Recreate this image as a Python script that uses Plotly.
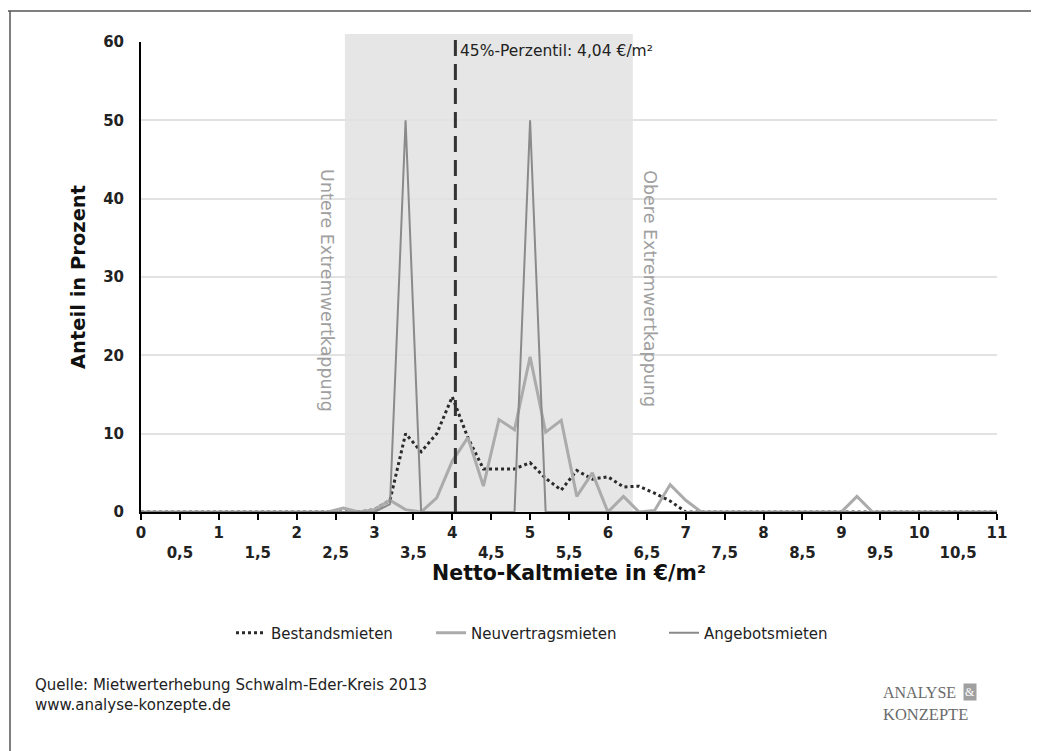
import plotly.graph_objects as go

# ---------------- data ----------------
MIETE = [0.0, 0.2, 0.4, 0.6, 0.8, 1.0, 1.2, 1.4, 1.6, 1.8, 2.0, 2.2, 2.4, 2.6, 2.8,
         3.0, 3.2, 3.4, 3.6, 3.8, 4.0, 4.2, 4.4, 4.6, 4.8, 5.0, 5.2, 5.4, 5.6, 5.8,
         6.0, 6.2, 6.4, 6.6, 6.8, 7.0, 7.2, 7.4, 7.6, 7.8, 8.0, 8.2, 8.4, 8.6, 8.8,
         9.0, 9.2, 9.4, 9.6, 9.8, 10.0, 10.2, 10.4, 10.6, 10.8, 11.0]

BESTANDSMIETEN = [0, 0, 0, 0, 0, 0, 0, 0, 0, 0, 0, 0, 0, 0, 0,
                  0.3, 1.5, 10.0, 7.7, 10.0, 14.7, 9.5, 5.5, 5.5, 5.5, 6.3, 4.3, 2.8, 5.3, 4.2,
                  4.5, 3.2, 3.3, 2.4, 1.4, 0, 0, 0, 0, 0, 0, 0, 0, 0, 0,
                  0, 0, 0, 0, 0, 0, 0, 0, 0, 0, 0]

NEUVERTRAGSMIETEN = [0, 0, 0, 0, 0, 0, 0, 0, 0, 0, 0, 0, 0, 0.5, 0,
                     0.3, 1.5, 0.3, 0, 1.8, 6.5, 9.5, 3.3, 11.8, 10.5, 19.8, 10.2, 11.7, 2.0, 5.0,
                     0, 2.0, 0, 0.2, 3.5, 1.5, 0, 0, 0, 0, 0, 0, 0, 0, 0,
                     0, 2.0, 0, 0, 0, 0, 0, 0, 0, 0, 0]

ANGEBOTSMIETEN = [0, 0, 0, 0, 0, 0, 0, 0, 0, 0, 0, 0, 0, 0, 0,
                  0, 1.0, 50.0, 0, 0, 0, 0, 0, 0, 0, 50.0, 0, 0, 0, 0,
                  0, 0, 0, 0, 0, 0, 0, 0, 0, 0, 0, 0, 0, 0, 0,
                  0, 0, 0, 0, 0, 0, 0, 0, 0, 0, 0]

SERIES_NAMES = ["Bestandsmieten", "Neuvertragsmieten", "Angebotsmieten"]

X_TICKS = [0, 0.5, 1, 1.5, 2, 2.5, 3, 3.5, 4, 4.5, 5, 5.5, 6, 6.5, 7, 7.5, 8, 8.5, 9, 9.5, 10, 10.5, 11]
X_TICKTEXT = ["0", "<br>0,5", "1", "<br>1,5", "2", "<br>2,5", "3", "<br>3,5", "4", "<br>4,5",
              "5", "<br>5,5", "6", "<br>6,5", "7", "<br>7,5", "8", "<br>8,5", "9", "<br>9,5",
              "10", "<br>10,5", "11"]
Y_TICKS = [0, 10, 20, 30, 40, 50, 60]

BAND_LOW = 2.62
BAND_HIGH = 6.32
PERZENTIL = 4.04

# ---------------- layout geometry ----------------
OFF = 8  # page margin of the html body
W, H = 1031, 743
L, T = 141 - OFF, 42 - OFF
R = W - (997 - OFF)
B = H - (512 - OFF)
PW, PH = W - L - R, H - T - B


def px_x(p):
    return (p - OFF - L) / PW


def px_y(p):
    return (H - B - (p - OFF)) / PH


FONT = "DejaVu Sans"

fig = go.Figure()
fig.add_trace(go.Scatter(x=MIETE, y=BESTANDSMIETEN, mode="lines", name=SERIES_NAMES[0],
                         legend="legend",
                         line=dict(color="#2b2b2b", width=3, dash="dot")))
fig.add_trace(go.Scatter(x=MIETE, y=NEUVERTRAGSMIETEN, mode="lines", name=SERIES_NAMES[1],
                         legend="legend2",
                         line=dict(color="#ababab", width=3)))
fig.add_trace(go.Scatter(x=MIETE, y=ANGEBOTSMIETEN, mode="lines", name=SERIES_NAMES[2],
                         legend="legend3",
                         line=dict(color="#8a8a8a", width=2)))

shapes = [
    dict(type="rect", xref="x", yref="paper", x0=BAND_LOW, x1=BAND_HIGH, y0=0, y1=px_y(34),
         fillcolor="#e6e6e6", line=dict(width=0), layer="below"),
    dict(type="line", xref="x", yref="paper", x0=PERZENTIL, x1=PERZENTIL, y0=0, y1=px_y(35),
         line=dict(color="#333333", width=3, dash="16px,8px"), layer="above"),
    dict(type="line", xref="paper", yref="paper", x0=px_x(10), x1=px_x(10), y0=px_y(11), y1=px_y(770),
         line=dict(color="#555555", width=1.5)),
    dict(type="line", xref="paper", yref="paper", x0=px_x(0), x1=px_x(1036), y0=px_y(11), y1=px_y(11),
         line=dict(color="#555555", width=1.5)),
]

annotations = [
    dict(x=PERZENTIL, y=px_y(51), xref="x", yref="paper", text="45%-Perzentil: 4,04 €/m²",
         showarrow=False, xanchor="left", yanchor="middle", xshift=3,
         font=dict(family=FONT, size=15.5, color="#222222")),
    dict(x=BAND_LOW, y=px_y(291), xref="x", yref="paper", text="Untere Extremwertkappung",
         showarrow=False, textangle=90, xanchor="right", yanchor="middle", xshift=-6,
         font=dict(family=FONT, size=17.5, color="#a0a0a0")),
    dict(x=BAND_HIGH, y=px_y(289), xref="x", yref="paper", text="Obere Extremwertkappung",
         showarrow=False, textangle=90, xanchor="left", yanchor="middle", xshift=5,
         font=dict(family=FONT, size=17.5, color="#a0a0a0")),
    dict(x=px_x(33), y=px_y(695), xref="paper", yref="paper",
         text="Quelle: Mietwerterhebung Schwalm-Eder-Kreis 2013<br>www.analyse-konzepte.de",
         showarrow=False, xanchor="left", yanchor="middle", align="left",
         font=dict(family=FONT, size=15, color="#222222")),
    dict(x=px_x(881), y=px_y(692), xref="paper", yref="paper", text="ANALYSE",
         showarrow=False, xanchor="left", yanchor="middle",
         font=dict(family="Liberation Serif", size=16, color="#6a6a6a")),
    dict(x=px_x(970), y=px_y(692), xref="paper", yref="paper", text="&amp;",
         showarrow=False, xanchor="center", yanchor="middle", bgcolor="#a0a0a0", borderpad=1,
         font=dict(family="Liberation Serif", size=12, color="white")),
    dict(x=px_x(881), y=px_y(714), xref="paper", yref="paper", text="KONZEPTE",
         showarrow=False, xanchor="left", yanchor="middle",
         font=dict(family="Liberation Serif", size=16.5, color="#6a6a6a")),
]


def legend_at(px):
    return dict(orientation="h", x=px_x(px), xanchor="left", y=px_y(633), yanchor="middle",
                font=dict(family=FONT, size=15, color="#222222"), itemwidth=30,
                bgcolor="rgba(0,0,0,0)")


fig.update_layout(
    width=W, height=H,
    margin=dict(l=L, r=R, t=T, b=B),
    paper_bgcolor="white", plot_bgcolor="white",
    showlegend=True,
    legend=legend_at(231),
    legend2=legend_at(431),
    legend3=legend_at(664),
    shapes=shapes,
    annotations=annotations,
    xaxis=dict(range=[0, 11], tickvals=X_TICKS, ticktext=X_TICKTEXT, showgrid=False,
               showline=True, linecolor="black", linewidth=2, ticks="outside", ticklen=6,
               tickwidth=2, tickcolor="black", zeroline=False,
               tickfont=dict(family=FONT, size=15, color="#222222", weight="bold"),
               title=dict(text="Netto-Kaltmiete in €/m²", standoff=2,
                          font=dict(family=FONT, size=20.5, color="#111111", weight="bold"))),
    yaxis=dict(range=[0, 60], tickvals=Y_TICKS, showgrid=True, gridcolor="#e2e2e2", gridwidth=2,
               showline=True, linecolor="black", linewidth=2, ticks="", zeroline=False,
               ticklabelstandoff=12,
               tickfont=dict(family=FONT, size=15, color="#222222", weight="bold"),
               title=dict(text="Anteil in Prozent", standoff=12,
                          font=dict(family=FONT, size=19.5, color="#111111", weight="bold"))),
)

fig.write_html("out.html")
